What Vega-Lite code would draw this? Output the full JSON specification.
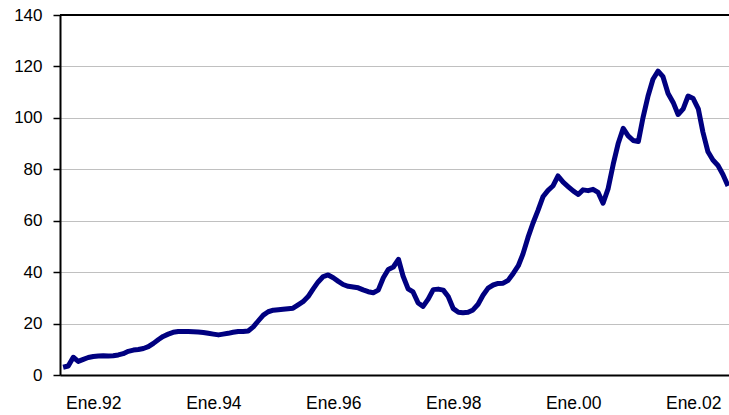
{
  "$schema": "https://vega.github.io/schema/vega-lite/v6.json",
  "width": 669,
  "height": 360,
  "autosize": "none",
  "padding": {"left": 60, "top": 15, "right": 0, "bottom": 40},
  "background": "white",
  "config": {"view": {"stroke": null}, "font": "Liberation Sans"},
  "data": {"values": [
    {"d": "1991-07-01", "v": 3.0}, {"d": "1991-08-01", "v": 3.5}, {"d": "1991-09-01", "v": 6.9}, {"d": "1991-10-01", "v": 5.3},
    {"d": "1991-11-01", "v": 6.1}, {"d": "1991-12-01", "v": 6.8},
    {"d": "1992-01-01", "v": 7.2}, {"d": "1992-02-01", "v": 7.4}, {"d": "1992-03-01", "v": 7.5}, {"d": "1992-04-01", "v": 7.4},
    {"d": "1992-05-01", "v": 7.5}, {"d": "1992-06-01", "v": 7.8}, {"d": "1992-07-01", "v": 8.3}, {"d": "1992-08-01", "v": 9.2},
    {"d": "1992-09-01", "v": 9.7}, {"d": "1992-10-01", "v": 9.9}, {"d": "1992-11-01", "v": 10.3}, {"d": "1992-12-01", "v": 11.0},
    {"d": "1993-01-01", "v": 12.3}, {"d": "1993-02-01", "v": 13.8}, {"d": "1993-03-01", "v": 15.0}, {"d": "1993-04-01", "v": 15.9},
    {"d": "1993-05-01", "v": 16.6}, {"d": "1993-06-01", "v": 16.9}, {"d": "1993-07-01", "v": 16.9}, {"d": "1993-08-01", "v": 16.9},
    {"d": "1993-09-01", "v": 16.8}, {"d": "1993-10-01", "v": 16.7}, {"d": "1993-11-01", "v": 16.5}, {"d": "1993-12-01", "v": 16.2},
    {"d": "1994-01-01", "v": 15.9}, {"d": "1994-02-01", "v": 15.6}, {"d": "1994-03-01", "v": 15.9}, {"d": "1994-04-01", "v": 16.2},
    {"d": "1994-05-01", "v": 16.6}, {"d": "1994-06-01", "v": 16.9}, {"d": "1994-07-01", "v": 16.9}, {"d": "1994-08-01", "v": 17.1},
    {"d": "1994-09-01", "v": 18.7}, {"d": "1994-10-01", "v": 21.0}, {"d": "1994-11-01", "v": 23.3}, {"d": "1994-12-01", "v": 24.6},
    {"d": "1995-01-01", "v": 25.2}, {"d": "1995-02-01", "v": 25.4}, {"d": "1995-03-01", "v": 25.6}, {"d": "1995-04-01", "v": 25.8},
    {"d": "1995-05-01", "v": 26.0}, {"d": "1995-06-01", "v": 27.3}, {"d": "1995-07-01", "v": 28.5}, {"d": "1995-08-01", "v": 30.5},
    {"d": "1995-09-01", "v": 33.5}, {"d": "1995-10-01", "v": 36.2}, {"d": "1995-11-01", "v": 38.3}, {"d": "1995-12-01", "v": 38.9},
    {"d": "1996-01-01", "v": 37.8}, {"d": "1996-02-01", "v": 36.4}, {"d": "1996-03-01", "v": 35.2}, {"d": "1996-04-01", "v": 34.5},
    {"d": "1996-05-01", "v": 34.2}, {"d": "1996-06-01", "v": 33.9}, {"d": "1996-07-01", "v": 33.1}, {"d": "1996-08-01", "v": 32.4},
    {"d": "1996-09-01", "v": 32.0}, {"d": "1996-10-01", "v": 33.0}, {"d": "1996-11-01", "v": 37.8}, {"d": "1996-12-01", "v": 41.0},
    {"d": "1997-01-01", "v": 42.0}, {"d": "1997-02-01", "v": 45.0}, {"d": "1997-03-01", "v": 38.5}, {"d": "1997-04-01", "v": 33.5},
    {"d": "1997-05-01", "v": 32.3}, {"d": "1997-06-01", "v": 28.0}, {"d": "1997-07-01", "v": 26.7}, {"d": "1997-08-01", "v": 29.5},
    {"d": "1997-09-01", "v": 33.2}, {"d": "1997-10-01", "v": 33.4}, {"d": "1997-11-01", "v": 33.0}, {"d": "1997-12-01", "v": 30.5},
    {"d": "1998-01-01", "v": 25.8}, {"d": "1998-02-01", "v": 24.4}, {"d": "1998-03-01", "v": 24.2}, {"d": "1998-04-01", "v": 24.4},
    {"d": "1998-05-01", "v": 25.3}, {"d": "1998-06-01", "v": 27.5}, {"d": "1998-07-01", "v": 31.0}, {"d": "1998-08-01", "v": 33.8},
    {"d": "1998-09-01", "v": 35.0}, {"d": "1998-10-01", "v": 35.6}, {"d": "1998-11-01", "v": 35.7}, {"d": "1998-12-01", "v": 36.8},
    {"d": "1999-01-01", "v": 39.5}, {"d": "1999-02-01", "v": 42.5}, {"d": "1999-03-01", "v": 47.0}, {"d": "1999-04-01", "v": 53.5},
    {"d": "1999-05-01", "v": 59.0}, {"d": "1999-06-01", "v": 64.0}, {"d": "1999-07-01", "v": 69.3}, {"d": "1999-08-01", "v": 71.8},
    {"d": "1999-09-01", "v": 73.6}, {"d": "1999-10-01", "v": 77.4}, {"d": "1999-11-01", "v": 75.0}, {"d": "1999-12-01", "v": 73.3},
    {"d": "2000-01-01", "v": 71.6}, {"d": "2000-02-01", "v": 70.2}, {"d": "2000-03-01", "v": 72.0}, {"d": "2000-04-01", "v": 71.7},
    {"d": "2000-05-01", "v": 72.2}, {"d": "2000-06-01", "v": 71.0}, {"d": "2000-07-01", "v": 66.8}, {"d": "2000-08-01", "v": 72.5},
    {"d": "2000-09-01", "v": 82.0}, {"d": "2000-10-01", "v": 90.0}, {"d": "2000-11-01", "v": 95.9}, {"d": "2000-12-01", "v": 93.0},
    {"d": "2001-01-01", "v": 91.2}, {"d": "2001-02-01", "v": 90.8}, {"d": "2001-03-01", "v": 100.0}, {"d": "2001-04-01", "v": 108.5},
    {"d": "2001-05-01", "v": 115.0}, {"d": "2001-06-01", "v": 118.2}, {"d": "2001-07-01", "v": 116.0}, {"d": "2001-08-01", "v": 109.5},
    {"d": "2001-09-01", "v": 106.0}, {"d": "2001-10-01", "v": 101.3}, {"d": "2001-11-01", "v": 103.5}, {"d": "2001-12-01", "v": 108.5},
    {"d": "2002-01-01", "v": 107.5}, {"d": "2002-02-01", "v": 103.5}, {"d": "2002-03-01", "v": 94.5}, {"d": "2002-04-01", "v": 86.8},
    {"d": "2002-05-01", "v": 83.6}, {"d": "2002-06-01", "v": 81.5}, {"d": "2002-07-01", "v": 78.0}, {"d": "2002-08-01", "v": 73.5}
  ]},
  "layer": [
    {
      "mark": {"type": "line", "color": "#000080", "strokeWidth": 5, "strokeJoin": "round", "clip": true},
      "encoding": {
        "x": {
          "field": "d", "type": "temporal",
          "scale": {"type": "utc", "domain": [{"year": 1991, "month": 6, "date": 12, "utc": true}, {"year": 2002, "month": 8, "date": 7, "utc": true}]},
          "axis": {
            "title": null,
            "values": [
              {"year": 1992, "month": 1, "date": 1, "utc": true},
              {"year": 1994, "month": 1, "date": 1, "utc": true},
              {"year": 1996, "month": 1, "date": 1, "utc": true},
              {"year": 1998, "month": 1, "date": 1, "utc": true},
              {"year": 2000, "month": 1, "date": 1, "utc": true},
              {"year": 2002, "month": 1, "date": 1, "utc": true}
            ],
            "labelExpr": "'Ene.' + utcFormat(datum.value, '%y')",
            "grid": false, "ticks": false, "tickSize": 0,
            "domainColor": "#000000", "domainWidth": 2,
            "labelFontSize": 17.5, "labelColor": "#000000", "labelPadding": 19,
            "labelFont": "Liberation Sans", "labelFlush": false, "labelOverlap": false
          }
        },
        "y": {
          "field": "v", "type": "quantitative",
          "scale": {"domain": [0, 140], "nice": false},
          "axis": {
            "title": null, "values": [0, 20, 40, 60, 80, 100, 120, 140],
            "grid": true, "gridColor": "#c0c0c0", "gridWidth": 1,
            "domainColor": "#000000", "domainWidth": 2,
            "tickColor": "#000000", "tickSize": 7, "tickWidth": 1.5,
            "labelFontSize": 17, "labelColor": "#000000", "labelPadding": 11,
            "labelFont": "Liberation Sans"
          }
        }
      }
    },
    {
      "mark": {"type": "rule", "color": "#000000", "strokeWidth": 2},
      "encoding": {"y": {"datum": 140}}
    }
  ]
}
